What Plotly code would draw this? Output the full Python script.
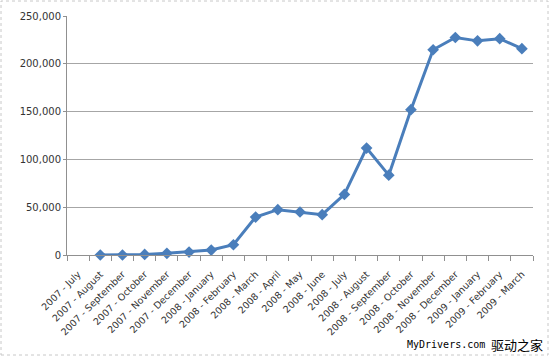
import plotly.graph_objects as go

months = ["2007 - July", "2007 - August", "2007 - September", "2007 - October",
          "2007 - November", "2007 - December", "2008 - January", "2008 - February",
          "2008 - March", "2008 - April", "2008 - May", "2008 - June", "2008 - July",
          "2008 - August", "2008 - September", "2008 - October", "2008 - November",
          "2008 - December", "2009 - January", "2009 - February", "2009 - March"]
values = [None, 0, 0, 600, 1700, 3100, 5200, 10700, 39700, 47400, 45000, 42200,
          63400, 111800, 83500, 152000, 214700, 227500, 224000, 226300, 215800]
y_ticks = [0, 50000, 100000, 150000, 200000, 250000]

W, H = 550, 358
L, R, T, B = 67, 533, 16, 255

def px(x):
    return (x - L) / (R - L)

def py(y):
    return (B - y) / (B - T)

fig = go.Figure()
fig.add_trace(go.Scatter(
    x=months, y=values, mode="lines+markers",
    line=dict(color="#4a7ebb", width=3),
    marker=dict(symbol="diamond", size=9, color="#4a7ebb"),
    connectgaps=False, showlegend=False, cliponaxis=False,
))

fig.update_layout(
    width=W, height=H,
    margin=dict(l=L, r=W - R, t=T, b=H - B, autoexpand=False),
    paper_bgcolor="white", plot_bgcolor="white",
    font=dict(family="DejaVu Sans", size=9, color="#333333"),
    xaxis=dict(
        type="category", categoryorder="array", categoryarray=months,
        range=[-0.5, len(months) - 0.5], tickangle=-45, automargin=False,
        tickson="boundaries", ticks="outside", ticklen=5, tickcolor="#909090",
        ticklabelstandoff=9,
        showline=True, linecolor="#909090", linewidth=1,
        showgrid=False, zeroline=False,
        tickfont=dict(size=9.5, color="#333333"),
    ),
    yaxis=dict(
        range=[0, 250000], tickvals=y_ticks, tickformat=",", automargin=False,
        ticks="outside", ticklen=3, tickcolor="#909090",
        showline=True, linecolor="#909090", linewidth=1,
        showgrid=True, gridcolor="#a6a6a6", gridwidth=1, zeroline=False,
        tickfont=dict(size=10, color="#333333"),
    ),
)

fig.add_shape(type="rect", xref="paper", yref="paper",
              x0=px(1), x1=px(548), y0=py(355), y1=py(1),
              line=dict(color="#c8c8c8", width=1, dash="dot"), layer="below")

fig.add_annotation(xref="paper", yref="paper", x=px(487), y=py(344),
                   xanchor="right", yanchor="middle", showarrow=False,
                   text="MyDrivers.com",
                   font=dict(family="DejaVu Sans Mono", size=10, color="#000000"))
fig.add_annotation(xref="paper", yref="paper", x=px(489), y=py(344),
                   xanchor="left", yanchor="middle", showarrow=False,
                   text="驱动之家",
                   font=dict(family="Noto Sans CJK SC", size=13, color="#000000"))

fig.write_html("out.html", config={"displayModeBar": False},
               post_script="document.body.style.margin='0';document.body.style.overflow='hidden';")
